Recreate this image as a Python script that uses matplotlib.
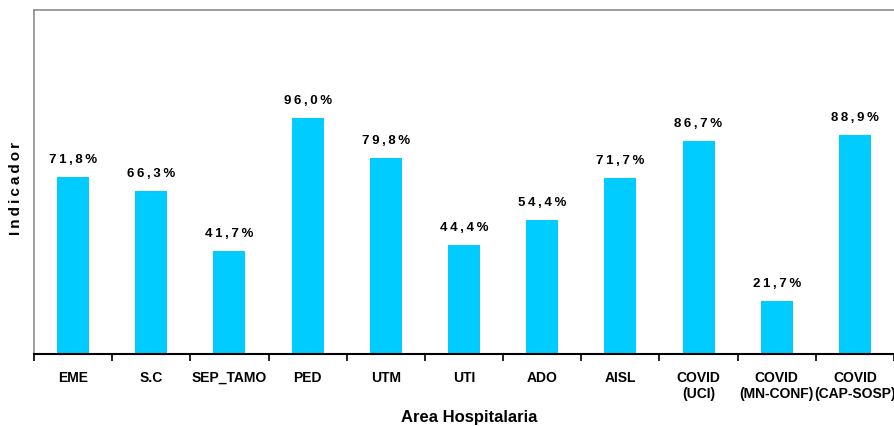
import matplotlib.pyplot as plt
import numpy as np

areas = ["EME", "S.C", "SEP_TAMO", "PED", "UTM", "UTI", "ADO", "AISL",
         "COVID\n(UCI)", "COVID\n(MN-CONF)", "COVID\n(CAP-SOSP)"]
indicador = [71.8, 66.3, 41.7, 96.0, 79.8, 44.4, 54.4, 71.7, 86.7, 21.7, 88.9]

plt.rcParams["font.family"] = ["Liberation Sans", "DejaVu Sans"]


def spaced(text):
    # widen the tracking with thin spaces
    return "\u2009".join(text)


fig = plt.figure(figsize=(8.94, 4.26), dpi=100)
ax = fig.add_axes([0.038, 0.169, 0.962, 0.808])

x = np.arange(len(areas))
bars = ax.bar(x, indicador, width=0.41, color="#00CCFF", zorder=2)

for rect, val in zip(bars, indicador):
    ax.annotate(spaced(f"{val:.1f}%".replace(".", ",")),
                (rect.get_x() + rect.get_width() / 2, rect.get_height()),
                xytext=(0, 8), textcoords="offset points",
                ha="center", va="bottom", fontsize=9.5, fontweight="bold")

ax.set_xlim(-0.5, len(areas) - 0.5)
ax.set_ylim(0, 140)
ax.set_yticks([])

# labels at category centres, tick marks on the boundaries
ax.set_xticks(x)
ax.set_xticklabels(areas, fontsize=10, fontweight="bold", linespacing=1.2)
ax.tick_params(axis="x", which="major", length=0, pad=12)
ax.set_xticks(np.arange(len(areas) + 1) - 0.5, minor=True)
ax.tick_params(axis="x", which="minor", length=5, width=1.2, direction="out")

for side in ("left", "top"):
    ax.spines[side].set_color("#8c8c8c")
    ax.spines[side].set_linewidth(1.2)
ax.spines["right"].set_visible(False)
ax.spines["bottom"].set_color("black")
ax.spines["bottom"].set_linewidth(1.5)

ax.set_xlabel("Area Hospitalaria", fontsize=12, fontweight="bold")
ax.xaxis.set_label_coords(0.506, -0.163)
ax.set_ylabel(spaced("Indicador"), fontsize=11, fontweight="bold")
ax.yaxis.set_label_coords(-0.0128, 0.48)

fig.savefig("out.png", dpi=100)
